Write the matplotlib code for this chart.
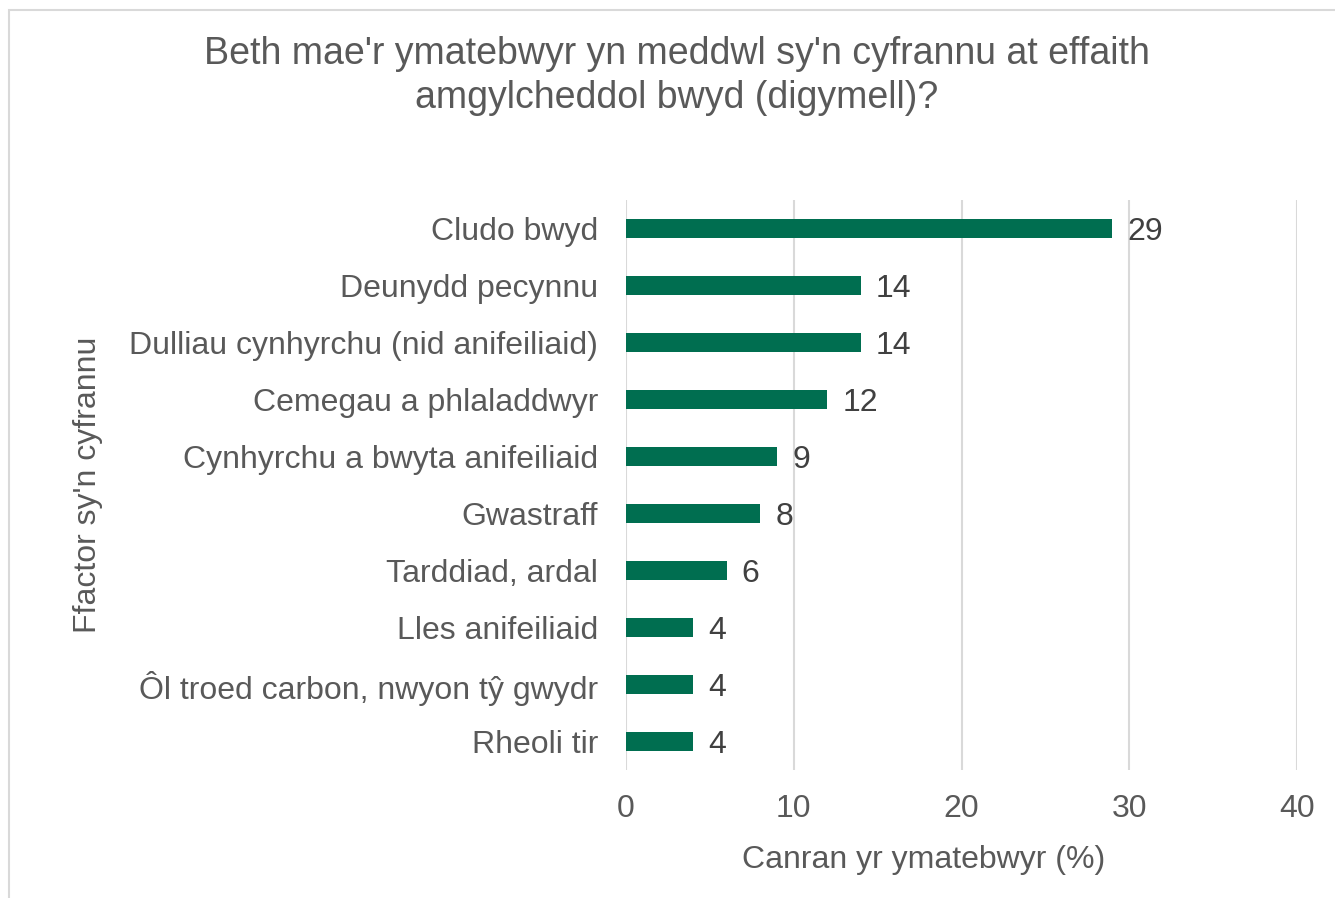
import matplotlib.pyplot as plt
from matplotlib.patches import Rectangle

plt.rcParams['font.family'] = ['Liberation Sans', 'DejaVu Sans']

# data
factors = ['Cludo bwyd', 'Deunydd pecynnu', 'Dulliau cynhyrchu (nid anifeiliaid)',
           'Cemegau a phlaladdwyr', 'Cynhyrchu a bwyta anifeiliaid', 'Gwastraff',
           'Tarddiad, ardal', 'Lles anifeiliaid', 'Ôl troed carbon, nwyon tŷ gwydr',
           'Rheoli tir']
percent = [29, 14, 14, 12, 9, 8, 6, 4, 4, 4]
xticks = [0, 10, 20, 30, 40]

grey = '#595959'
green = '#006E50'
fs = 23

fig = plt.figure(figsize=(13.35, 8.98), dpi=100)
ax = fig.add_axes([626/1335, 1-770/898, 671/1335, 570/898])

ax.barh(range(len(factors)), percent, height=0.33, color=green, zorder=3)
for i, v in enumerate(percent):
    ax.text(v + 0.9, i, str(v), va='center_baseline', ha='left', fontsize=fs, color='#404040')

ax.set_xlim(0, 40)
ax.set_ylim(len(factors) - 0.5, -0.5)
ax.set_xticks(xticks)
ax.set_yticks(range(len(factors)))
ax.set_yticklabels(factors)
ax.tick_params(axis='both', length=0, labelsize=fs, labelcolor=grey)
ax.tick_params(axis='y', pad=20)
ax.tick_params(axis='x', pad=17)
ax.grid(axis='x', color='#d9d9d9', linewidth=1.5, zorder=0)
for s in ax.spines.values():
    s.set_visible(False)

fig.text(924/1335, 1-860/898, 'Canran yr ymatebwyr (%)', fontsize=fs, color=grey,
         ha='center', va='center')
fig.text(88/1335, 1-485/898, "Ffactor sy'n cyfrannu", rotation=90, fontsize=fs,
         color=grey, ha='center', va='center')

fig.text(677/1335, 1-76/898,
         "Beth mae'r ymatebwyr yn meddwl sy'n cyfrannu at effaith\namgylcheddol bwyd (digymell)?",
         ha='center', va='center', fontsize=27, color=grey, linespacing=1.28)

fig.patches.append(Rectangle((9/1335, -0.1), 1.2, 1 - 10/898 + 0.1, transform=fig.transFigure,
                             fill=False, edgecolor='#d9d9d9', linewidth=1.5))

fig.savefig('out.png', dpi=100)
